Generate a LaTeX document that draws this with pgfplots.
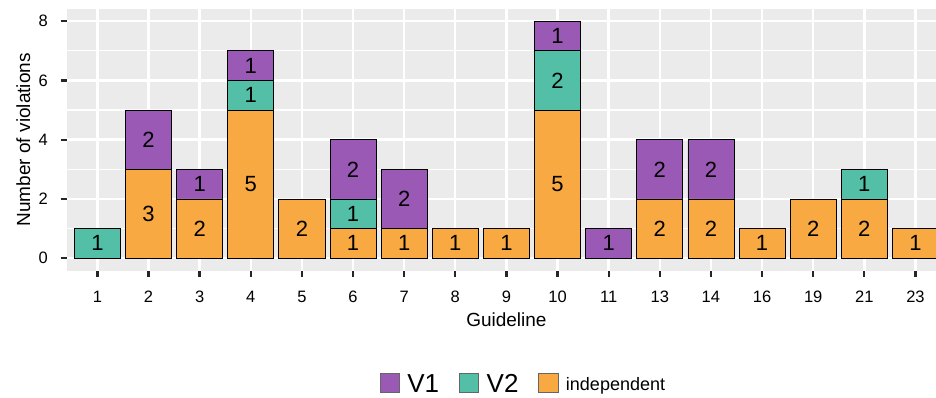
\documentclass[border=0pt]{standalone}
\usepackage{fontspec}
\setmainfont{Liberation Sans}
\usepackage{pgfplots}
\usepackage{pgfplotstable}
\pgfplotsset{compat=1.18}
\definecolor{cV1}{HTML}{9B59B6}
\definecolor{cV2}{HTML}{52BFA6}
\definecolor{cind}{HTML}{F8A941}
\definecolor{panel}{HTML}{EBEBEB}
\newcommand\tickfont{\fontsize{16.5}{19}\selectfont}
\newcommand\titlefont{\fontsize{19}{22}\selectfont}
\newcommand\barfont{\fontsize{22}{24}\selectfont}
\newcommand\legfont{\fontsize{26}{28}\selectfont}
\newcommand\legsmall{\fontsize{18}{20}\selectfont}
\pgfplotstableread{
x ind v2 v1
0 0 1 0
1 3 0 2
2 2 0 1
3 5 1 1
4 2 0 0
5 1 1 2
6 1 0 2
7 1 0 0
8 1 0 0
9 5 2 1
10 0 0 1
11 2 0 2
12 2 0 2
13 1 0 0
14 2 0 0
15 2 1 0
16 1 0 0
}\datatable
\pgfplotstableread{
x y lab
1 1.5 3
2 1 2
3 2.5 5
4 1 2
5 0.5 1
6 0.5 1
7 0.5 1
8 0.5 1
9 2.5 5
11 1 2
12 1 2
13 0.5 1
14 1 2
15 1 2
16 0.5 1
0 0.5 1
3 5.5 1
5 1.5 1
9 6 2
15 2.5 1
1 4 2
2 2.5 1
3 6.5 1
5 3 2
6 2 2
9 7.5 1
10 0.5 1
11 3 2
12 3 2
}\labeltable
\begin{document}
\begin{tikzpicture}
\useasboundingbox (0,0) rectangle (936pt,398pt);
\pgfplotsset{
  common/.style={
    at={(66.7pt,127.3pt)}, anchor=south west, scale only axis,
    width=879.4pt, height=261.7pt,
    xmin=-0.6, xmax=16.6, ymin=-0.42, ymax=8.41,
  }
}
\begin{axis}[common,
  ybar stacked, bar width=0.9,
  axis background/.style={fill=panel},
  axis line style={draw=none},
  xtick={0,...,16},
  xticklabels={1,2,3,4,5,6,7,8,9,10,11,13,14,16,19,21,23},
  ytick={0,2,4,6,8}, minor ytick={1,3,5,7},
  /pgf/number format/assume math mode=true,
  grid=both,
  major grid style={white, line width=2.4pt},
  minor grid style={white, line width=1.2pt},
  tick align=outside, tick pos=left,
  major tick length=6pt, minor tick length=0pt,
  major tick style={color=black!85, line width=2.3pt},
  yticklabel style={font=\tickfont, text=black, anchor=east, inner sep=0pt, xshift=-12.7pt},
  xticklabel style={font=\tickfont, text=black, anchor=base, inner sep=0pt, yshift=-26pt},
  xlabel={Guideline},
  xlabel style={at={(axis description cs:0.5,-0.214)}, anchor=base, font=\titlefont, inner sep=0pt},
  ylabel={Number of violations},
  ylabel style={at={(axis description cs:-0.0417,0.5)}, anchor=base, font=\titlefont, inner sep=0pt},
  legend style={draw=none, fill=none, at={(axis description cs:0.3559,-0.389)},
    anchor=north west, legend columns=-1, font=\legfont, inner sep=0pt,
    nodes={inner sep=0pt},
    /tikz/every even column/.append style={column sep=20pt},
    /tikz/every odd column/.append style={column sep=7.7pt}},
  legend image code/.code={\draw[#1, draw=black!60, line width=0.5pt] (0pt,-7.65pt) rectangle (19.3pt,11.65pt);},
  reverse legend,
]
\addplot[fill=cind, draw=black, line width=0.8pt] table[x=x, y=ind] {\datatable};
\addlegendentry{\legsmall independent}
\addplot[fill=cV2, draw=black, line width=0.8pt] table[x=x, y=v2] {\datatable};
\addlegendentry{V2}
\addplot[fill=cV1, draw=black, line width=0.8pt] table[x=x, y=v1] {\datatable};
\addlegendentry{V1}
\end{axis}
\begin{axis}[common, hide axis]
\addplot[draw=none, nodes near coords, point meta=explicit symbolic,
  nodes near coords style={anchor=center, font=\barfont, text=black}]
  table[x=x, y=y, meta=lab] {\labeltable};
\end{axis}
\end{tikzpicture}
\end{document}
